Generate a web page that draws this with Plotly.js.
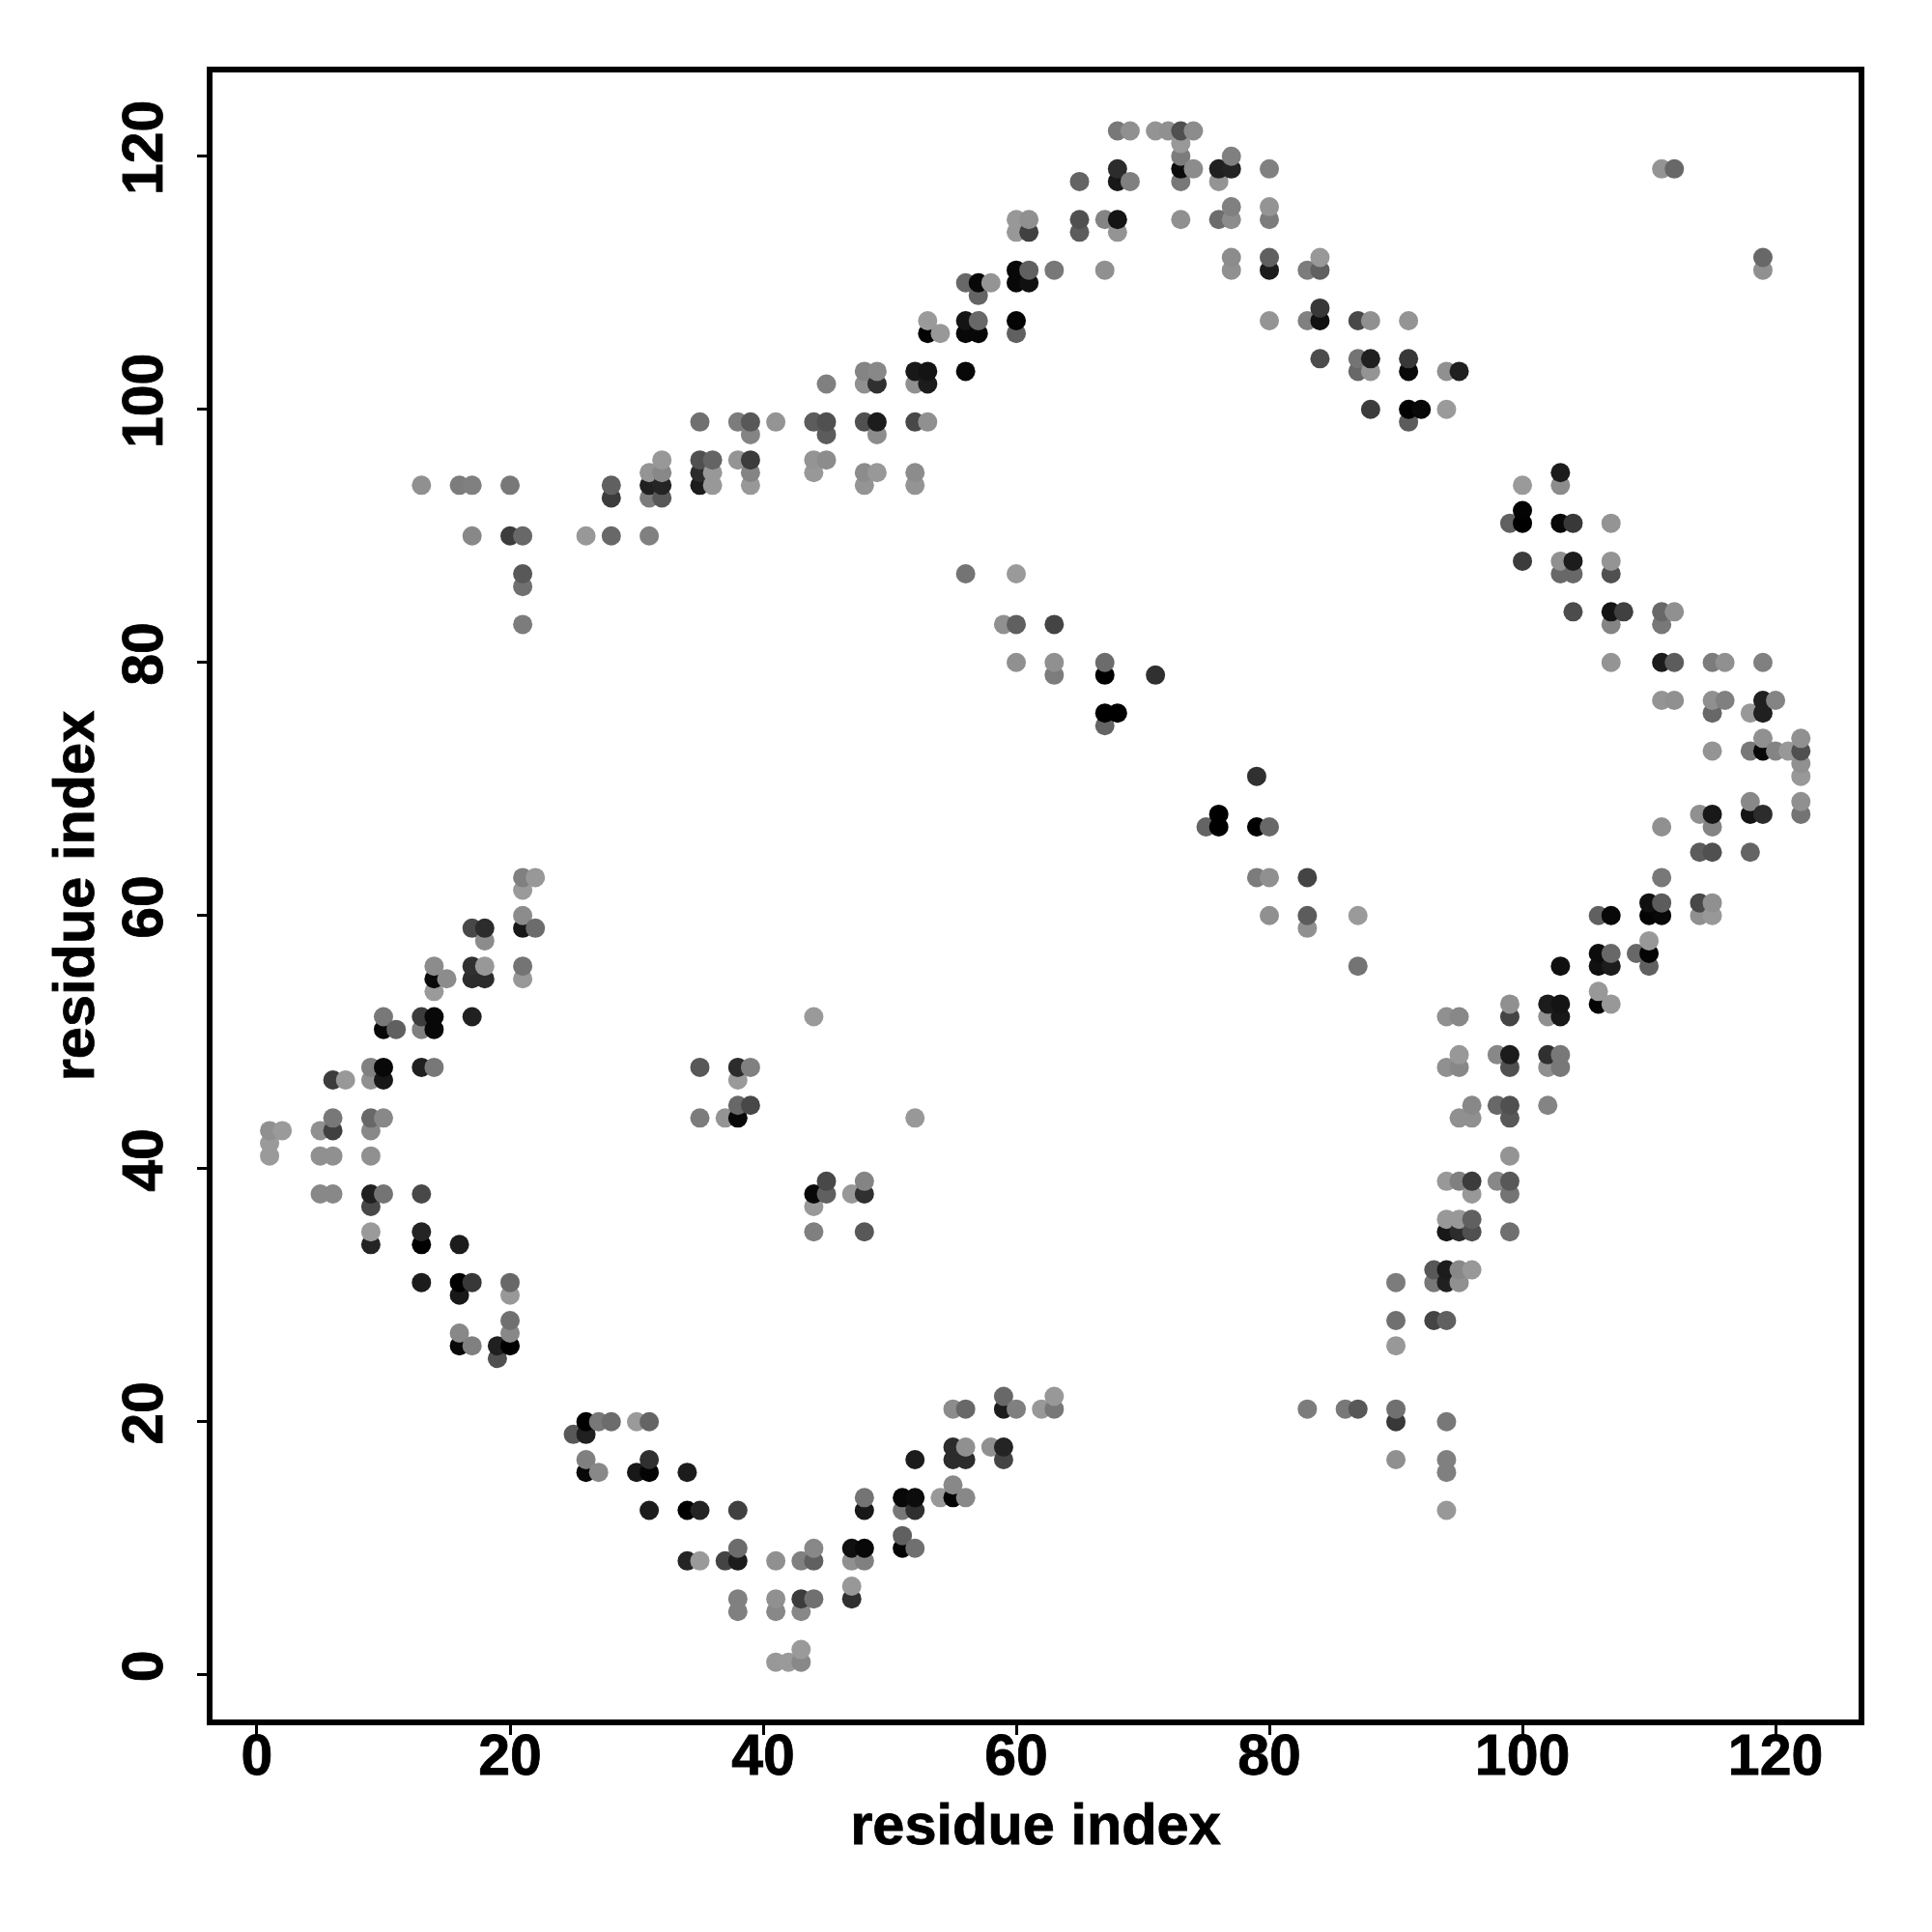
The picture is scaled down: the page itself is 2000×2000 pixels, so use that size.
<!DOCTYPE html>
<html>
<head>
<meta charset="utf-8">
<script src="https://cdn.plot.ly/plotly-3.0.1.min.js"></script>
<style>html,body{margin:0;padding:0;background:#fff}
.xtick text,.ytick text,.g-xtitle text,.g-ytitle text{stroke:#000;stroke-width:0.8px}</style>
</head>
<body>
<div id="chart" style="width:2000px;height:2000px"></div>
<script>
const axisLabel = "residue index";
const tickValues = [0, 20, 40, 60, 80, 100, 120];
const residueColumns = [1,2,5,6,7,9,10,11,13,14,15,16,17,18,19,20,21,22,25,26,27,28,30,31,32,34,35,36,37,38,39,41,42,43,44,45,47,48,49,51,52,53,54,55,56,57,58,59,60,61,62,63,65,67,68,69,71,72,73,74,75,76,77,79,80,83,84,86,87,88,90,91,92,93,94,95,96,98,99,100,102,103,104,106,107,108,109,110,111,112,114,115,116,118,119,120,121,122];
const partnerResidues = [
[41,42,43],[43],[38,41,43],[38,41,43,44,47],[47],[34,35,37,38,41,43,44,47,48],[38,44,47,48,51,52],[51],[31,34,35,38,48,51,52,94],[48,51,52,54,55,56],[55],[26,27,30,31,34,94],[26,31,52,55,56,59,90,94],[55,56,58,59],[25,26],[26,27,28,30,31,90,94],[55,56,59,60,62,63,83,86,87,90],[59,63],[19],[16,17,19,20,90],[16,20],[20,90,93,94],[16,20],[13,16,17,20,90,93,94,95],[93,94,95,96],[9,13,16],[9,13,44,48,94,95,96,99],[94,95,96],[9,44],[5,6,9,10,13,44,45,47,48,96,99],[45,48,94,95,96,98,99],[1,5,6,9,99],[1],[1,2,5,6,9],[6,9,10,35,37,38,52,95,96,99],[38,39,96,98,99,102],[6,7,9,10,38],[9,10,13,14,35,38,39,94,95,99,102,103],[95,98,99,102,103],[10,11,13,14],[10,13,14,17,44,94,95,99,102,103],[99,102,103,106,107],[14,106],[14,15,17,18,21],[14,17,18,21,87,103,106,107,110],[106,107,109,110],[18,110],[17,18,21,22,83],[21,80,83,87,106,107,110,111,114,115],[110,111,114,115],[21],[21,22,79,80,83,111],[114,115,118],[75,76,79,80,111,115],[76,114,115,118,119,122],[118,122],[79,122],[122],[115,118,119,120,121,122],[119,122],[67],[67,68,115,118,119],[111,112,115,116,119,120],[63,67,71],[60,63,67,107,111,112,115,116,119],[21,59,60,63,107,111],[104,107,108,111,112],[21],[21,56,60,103,104,107],[100,103,104,107],[17,20,21,26,28,31],[99,100,103,104,107],[100],[28,31,32],[13,16,17,20,28,31,32,35,36,39,48,52,100,103],[31,32,35,36,39,44,48,49,52,103],[32,35,36,38,39,44,45],[39,45,49],[35,38,39,41,44,45,48,49,52,53,91],[88,91,92,94],[45,48,49,52,53],[48,49,52,53,56,87,88,91,94,95],[84,87,88,91],[53,54,56,57,60],[53,56,57,60,80,83,84,87,88,91],[84],[57],[56,57,58,60,61],[60,61,63,67,77,80,83,84,119],[77,80,84,119],[60,61,65,68],[60,61,65,67,68,73,76,77,80],[77,80],[65,68,69,73,76],[68,73,74,76,77,80,111,112],[73,77],[73],[68,69,71,72,73,74]
];
const greyLevels = [
[0x9a,0x9a,0x90],[0x9a],[0x88,0x90,0x90],[0x88,0x90,0x40,0x78,0x3c],[0x98],[0x24,0x9a,0x48,0x20,0x90,0x88,0x68,0x90,0x80],[0x74,0x88,0x18,0x08,0x08,0x78],[0x60],[0x1c,0x00,0x24,0x48,0x20,0x80,0x3c,0x90],[0x78,0x08,0x08,0x9a,0x0a,0x8c],[0x8c],[0x08,0x88,0x18,0x00,0x1c,0x7c],[0x80,0x38,0x20,0x2c,0x30,0x48,0x88,0x80],[0x2c,0x98,0x8c,0x2c],[0x50,0x20],[0x00,0x88,0x70,0x98,0x68,0x3c,0x78],[0x98,0x74,0x18,0x8c,0x9a,0x80,0x7c,0x70,0x58,0x68],[0x6c,0x98],[0x58],[0x08,0x80,0x20,0x00,0x98],[0x88,0x78],[0x6c,0x68,0x3c,0x60],[0x18,0x9a],[0x1c,0x04,0x30,0x64,0x80,0x7c,0x20,0x94],[0x58,0x24,0x88,0x98],[0x24,0x00,0x1c],[0x9a,0x24,0x7c,0x58,0x1c,0x2c,0x50,0x70],[0x98,0x98,0x64],[0x44,0x94],[0x80,0x80,0x1c,0x6c,0x40,0x08,0x68,0x9a,0x2c,0x94,0x7c],[0x48,0x80,0x98,0x84,0x3c,0x84,0x58],[0x98,0x88,0x90,0x90,0x94],[0x9a],[0x88,0x9a,0x88,0x3c,0x80],[0x70,0x60,0x88,0x80,0x98,0x08,0x9a,0x98,0x94,0x5c],[0x60,0x48,0x8c,0x5c,0x50,0x80],[0x30,0x98,0x90,0x10,0x98],[0x80,0x08,0x18,0x74,0x58,0x30,0x84,0x94,0x8c,0x50,0x90,0x84],[0x98,0x8c,0x1c,0x30,0x88],[0x04,0x60,0x78,0x08],[0x70,0x30,0x0c,0x1c,0x98,0x94,0x8c,0x48,0x90,0x18],[0x90,0x1c,0x14,0x04,0x9a],[0x98,0x98],[0x04,0x88,0x2c,0x2c,0x8c],[0x88,0x2c,0x90,0x68,0x74,0x08,0x08,0x14,0x68],[0x08,0x68,0x64,0x08],[0x90,0x94],[0x44,0x24,0x1c,0x68,0x90],[0x80,0x90,0x60,0x9a,0x60,0x04,0x08,0x08,0x98,0x98],[0x10,0x60,0x40,0x90],[0x98],[0x78,0x98,0x7c,0x90,0x44,0x78],[0x5c,0x50,0x64],[0x64,0x00,0x00,0x6c,0x90,0x84],[0x00,0x94,0x14,0x18,0x2c,0x78],[0x80,0x90],[0x30,0x94],[0x90],[0x90,0x78,0x0c,0x7c,0x98,0x50],[0x8c,0x8c],[0x64],[0x00,0x00,0x6c,0x94,0x20],[0x90,0x8c,0x8c,0x80,0x24,0x80],[0x7c,0x00,0x30],[0x90,0x90,0x68,0x94,0x1c,0x60,0x7c,0x94,0x80],[0x7c,0x90,0x5c,0x44,0x80,0x7c],[0x4c,0x10,0x38,0x60,0x98],[0x78],[0x58,0x74,0x9a,0x68,0x74,0x48],[0x3c,0x94,0x20,0x90],[0x90,0x38,0x70,0x98,0x70,0x7c],[0x5c,0x00,0x08,0x38,0x94],[0x08],[0x44,0x78,0x58],[0x98,0x80,0x80,0x78,0x60,0x20,0x1c,0x18,0x98,0x98,0x90,0x90,0x9a,0x90],[0x90,0x88,0x2c,0x98,0x80,0x90,0x88,0x98,0x88,0x20],[0x98,0x50,0x60,0x98,0x3c,0x90,0x88],[0x88,0x68,0x88],[0x70,0x74,0x58,0x94,0x58,0x50,0x50,0x1c,0x44,0x90,0x60],[0x3c,0x00,0x04,0x9a],[0x84,0x90,0x30,0x90,0x1c],[0x78,0x78,0x18,0x14,0x10,0x68,0x90,0x08,0x8c,0x1c],[0x4c,0x68,0x1c,0x38],[0x04,0x98,0x10,0x0c,0x60],[0x98,0x1c,0x68,0x08,0x94,0x84,0x14,0x50,0x94,0x94],[0x40],[0x68],[0x60,0x04,0x98,0x04,0x10],[0x08,0x5c,0x78,0x90,0x94,0x1c,0x78,0x68,0x94],[0x90,0x5c,0x90,0x68],[0x90,0x48,0x5c,0x90],[0x98,0x90,0x50,0x84,0x18,0x94,0x68,0x90,0x7c],[0x80,0x90],[0x64,0x14,0x88,0x78,0x98],[0x2c,0x08,0x90,0x20,0x20,0x80,0x90,0x68],[0x84,0x84],[0x98],[0x74,0x90,0x98,0x90,0x50,0x90]
];

const xs = [], ys = [], colors = [];
residueColumns.forEach((col, i) => {
  partnerResidues[i].forEach((p, j) => {
    const g = greyLevels[i][j];
    xs.push(col); ys.push(p); colors.push(`rgb(${g},${g},${g})`);
  });
});

const axisFont = {family: "Liberation Sans, Arial, sans-serif", size: 59, color: "#000", weight: 700};
const titleFont = {family: "Liberation Sans, Arial, sans-serif", size: 59.5, color: "#000", weight: 700};
const baseAxis = {
  tickmode: "array", tickvals: tickValues, ticktext: tickValues.map(String),
  showgrid: false, zeroline: false, showline: true, mirror: true,
  linecolor: "#000", linewidth: 6,
  ticks: "outside", ticklen: 10, tickwidth: 3, tickcolor: "#000",
  tickfont: axisFont
};
Plotly.newPlot("chart", [{
  type: "scatter", mode: "markers", x: xs, y: ys,
  marker: {size: 20, color: colors, line: {width: 0}},
  hoverinfo: "x+y"
}], {
  width: 2000, height: 2000, showlegend: false,
  paper_bgcolor: "#fff", plot_bgcolor: "#fff",
  margin: {l: 220, r: 76, t: 75, b: 220, pad: 0},
  xaxis: Object.assign({}, baseAxis, {
    range: [-3.51, 126.56], ticklabelstandoff: -30,
    title: {text: axisLabel, font: titleFont, standoff: 21}
  }),
  yaxis: Object.assign({}, baseAxis, {
    range: [-3.53, 126.62], tickangle: -90, ticklabelstandoff: 12,
    title: {text: axisLabel, font: titleFont, standoff: 1}
  })
}, {staticPlot: true, displayModeBar: false});
</script>
</body>
</html>
